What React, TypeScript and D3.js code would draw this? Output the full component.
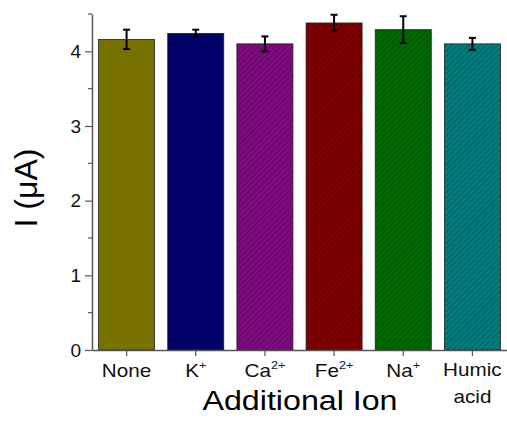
import * as d3 from "d3";
import React, { useRef, useEffect } from "react";

const categories = ["None", "K", "Ca", "Fe", "Na", "Humic acid"];
const superscripts = ["", "+", "2+", "2+", "+", ""];
const currents = [4.16, 4.24, 4.1, 4.38, 4.29, 4.1];
const errors = [0.13, 0.05, 0.1, 0.11, 0.18, 0.08];
const colors = ["#777100", "#000068", "#800a80", "#800000", "#006a00", "#007c7c"];
const hatched = [false, false, true, true, true, true];
const yTicks = [0, 1, 2, 3, 4];

const width = 507;
const height = 423;
const margin = { top: 14, right: 0, bottom: 73, left: 92 };
const font = "Liberation Sans, Arial, sans-serif";

function App() {
  const ref = useRef<SVGSVGElement>(null);

  useEffect(() => {
    const svg = d3.select(ref.current);
    svg.selectAll("*").remove();

    const innerWidth = width - margin.left - margin.right;
    const innerHeight = height - margin.top - margin.bottom;

    const x = d3
      .scaleBand()
      .domain(categories)
      .range([0, innerWidth])
      .paddingInner(0.19)
      .paddingOuter(0.095);
    const y = d3.scaleLinear().domain([0, 4.5]).range([innerHeight, 0]);

    const defs = svg.append("defs");
    colors.forEach((c, i) => {
      const p = defs
        .append("pattern")
        .attr("id", `hatch${i}`)
        .attr("patternUnits", "userSpaceOnUse")
        .attr("width", 4)
        .attr("height", 4)
        .attr("patternTransform", "rotate(45)");
      p.append("rect").attr("width", 4).attr("height", 4).attr("fill", c);
      p.append("line")
        .attr("x1", 0)
        .attr("y1", 0)
        .attr("x2", 0)
        .attr("y2", 4)
        .attr("stroke", "#000")
        .attr("stroke-opacity", 0.3)
        .attr("stroke-width", 1.5);
    });

    const g = svg
      .append("g")
      .attr("transform", `translate(${margin.left},${margin.top})`);

    // bars
    g.selectAll(".bar")
      .data(categories)
      .join("rect")
      .attr("class", "bar")
      .attr("x", (d) => x(d)!)
      .attr("y", (d, i) => y(currents[i]))
      .attr("width", x.bandwidth())
      .attr("height", (d, i) => innerHeight - y(currents[i]))
      .attr("fill", (d, i) => (hatched[i] ? `url(#hatch${i})` : colors[i]))
      .attr("stroke", "#222")
      .attr("stroke-width", 0.8);

    // error bars
    const eb = g
      .selectAll(".err")
      .data(categories)
      .join("g")
      .attr("class", "err")
      .attr("stroke", "#000")
      .attr("stroke-width", 2);
    const cx = (d: string) => x(d)! + x.bandwidth() / 2;
    eb.append("line")
      .attr("x1", cx)
      .attr("x2", cx)
      .attr("y1", (d, i) => y(currents[i] - errors[i]))
      .attr("y2", (d, i) => y(currents[i] + errors[i]));
    eb.append("line")
      .attr("x1", (d) => cx(d) - 3.5)
      .attr("x2", (d) => cx(d) + 3.5)
      .attr("y1", (d, i) => y(currents[i] + errors[i]))
      .attr("y2", (d, i) => y(currents[i] + errors[i]));
    eb.append("line")
      .attr("x1", (d) => cx(d) - 3.5)
      .attr("x2", (d) => cx(d) + 3.5)
      .attr("y1", (d, i) => y(currents[i] - errors[i]))
      .attr("y2", (d, i) => y(currents[i] - errors[i]));

    // y axis
    const yAxis = g
      .append("g")
      .call(d3.axisLeft(y).tickValues(yTicks).tickSize(7).tickSizeOuter(0).tickFormat(d3.format("d")));
    yAxis.selectAll(".tick line").attr("stroke", "#555").attr("stroke-width", 1.2);
    yAxis.select(".domain").attr("stroke", "#555").attr("stroke-width", 1.5);
    yAxis
      .selectAll(".tick text")
      .attr("font-family", font)
      .attr("font-size", 19)
      .attr("fill", "#111")
      .attr("x", -11);
    g.append("g")
      .selectAll("line")
      .data(d3.range(0.5, 4.6, 1))
      .join("line")
      .attr("x1", -4)
      .attr("x2", 0)
      .attr("y1", (d) => y(d))
      .attr("y2", (d) => y(d))
      .attr("stroke", "#555")
      .attr("stroke-width", 1.2);

    // x axis
    const xAxis = g
      .append("g")
      .attr("transform", `translate(0,${innerHeight})`)
      .call(d3.axisBottom(x).tickSize(6).tickSizeOuter(0).tickFormat(() => ""));
    xAxis.selectAll(".tick line").attr("stroke", "#555").attr("stroke-width", 1.2);
    xAxis.select(".domain").attr("stroke", "#555").attr("stroke-width", 1.5);

    const labels = g
      .selectAll(".xlab")
      .data(categories)
      .join("text")
      .attr("class", "xlab")
      .attr("font-family", font)
      .attr("font-size", 18)
      .attr("fill", "#111")
      .attr("text-anchor", "middle")
      .attr(
        "transform",
        (d) => `translate(${cx(d)},${innerHeight + 27}) scale(1.15,1)`
      );
    labels.each(function (d, i) {
      const t = d3.select(this);
      if (d === "Humic acid") {
        t.append("tspan").attr("x", 0).attr("dy", -1).text("Humic");
        t.append("tspan").attr("x", 0).attr("dy", 27).text("acid");
      } else {
        t.append("tspan").text(d);
        if (superscripts[i]) {
          t.append("tspan")
            .attr("dy", -8)
            .attr("font-size", 11)
            .text(superscripts[i]);
        }
      }
    });

    // axis titles
    g.append("text")
      .attr("font-family", font)
      .attr("font-size", 28)
      .attr("fill", "#000")
      .attr("text-anchor", "middle")
      .attr("transform", `translate(${300 - margin.left},${410 - margin.top}) scale(1.15,1)`)
      .text("Additional Ion");

    g.append("text")
      .attr("font-family", font)
      .attr("font-size", 32)
      .attr("fill", "#000")
      .attr("text-anchor", "middle")
      .attr("transform", `translate(${37 - margin.left},${188 - margin.top}) rotate(-90)`)
      .text("I (\u03bcA)");
  }, []);

  return (
    <svg
      ref={ref}
      width={width}
      height={height}
      style={{ position: "absolute", left: 0, top: 0, background: "#fff" }}
    />
  );
}

export default App;
